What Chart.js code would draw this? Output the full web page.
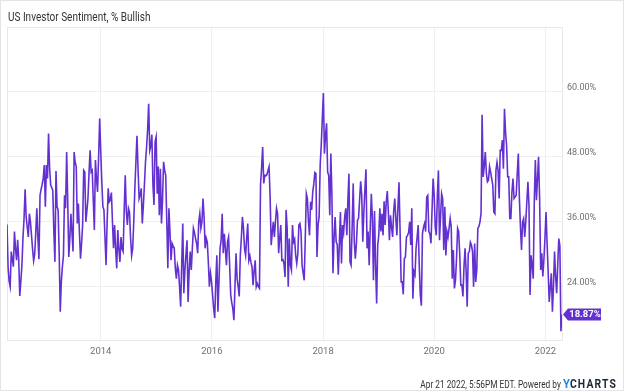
<!DOCTYPE html>
<html>
<head>
<meta charset="utf-8">
<script src="https://cdn.jsdelivr.net/npm/chart.js@4.4.1/dist/chart.umd.min.js"></script>
<style>
html,body{margin:0;padding:0;background:#fff;}
#wrap{position:relative;width:624px;height:391px;box-sizing:border-box;border:1px solid #e4e4e4;overflow:hidden;font-family:Roboto,'Noto Sans',sans-serif;}
#c{position:absolute;left:-1px;top:-1px;}
#title{position:absolute;left:7px;top:8px;font-size:12.5px;color:#333;white-space:nowrap;transform:scaleX(0.8);transform-origin:0 0;}
#footer{position:absolute;right:6px;top:375px;font-size:10px;color:#333;white-space:nowrap;line-height:14px;transform:scaleX(0.83);transform-origin:100% 0;}
#footer .y{color:#1a8cf0;font-weight:700;font-size:13.5px;}
#footer .c{color:#1c2838;font-weight:700;font-size:12.5px;letter-spacing:1.4px;}
</style>
</head>
<body>
<div id="wrap">
<canvas id="c" width="624" height="391"></canvas>
<div id="title">US Investor Sentiment, % Bullish</div>
<div id="footer">Apr 21 2022, 5:56PM EDT. Powered by <span class="y">Y</span><span class="c">CHARTS</span></div>
</div>
<script>
// Weekly AAII-style % bullish readings, first reading week of 25 Apr 2012, last 20 Apr 2022
const firstWeek = '2012-04-25';
const bullish2012to2014a = [
35.5,27.7,25,24.0,30.5,29,27.7,34.2,31,28.9,
32.7,29,22.3,25,28,33,36.6,42.0,36.9,35,
33.2,37.5,36,33.5,31,28.8,30,34,38.5,33,
29.1,40.9,42,42.9,44,46.5,38.8,46.5,44,52.3,
46,42.8,42.3,41.8,34,28.6,45.4,38.8,38.2,30,
19.4,25,27.7,29.8,40.9,38.5,48.9,40,29.5,33,
37.5,34,30.5,48.9,47,46.2,35.7,39.4,34,29.2,
32,35.4,45.5,45.2,36.0,38,40.3,45,49.2,45.2,
45.5,40,34.5,47.4,44,41.5,48,55.1];
const bullish2014to2015 = [
49,43.4,38.8,38.2,33,28.0,36,42.2,39.7,40,
41.4,36,31.1,35.4,31,27.4,34.5,31,28.6,33.2,
31,30.5,38,44.6,38,35.4,38.5,37.8,33,29.8,
31.1,36,42,47,51.9,46,40.3,41,42.2,35.7,
39,42.8,47,49.7,53,57.8,49.2,50,52.1,42.8,
39.1,50.8,51.7,41.2,46.2,37.2,45.8,35.7,40,47.1,
45.5,44.6,36,27.4,38.5,34,28.9,32.0,31.5,31.1,
27.4,25.5,28,27.1,24,20.3,28,35.7,22.8,27,
30,32.6,21.2,27,30.5,27.1,31.1];
const bullish2015to2017 = [
34.8,34,32.9,32,30.2,36,37.5,34.8,36,40.3,
36.9,31.1,33,32.3,28.6,24.0,26.5,25,22.5,20,
18.2,25,29.8,19.4,25,31.1,32.6,37.5,30.2,33.8,
31,28.0,32.3,33.2,28.0,22.5,21,20.0,17.8,24,
30.2,25.5,24,22.2,29.8,33,36.9,34.8,31,29.8,
33,35.7,28.9,29.7,28.5,27.7,24.3,27,28.9,24.0,
24.6,24,23.7,42.8,46,49.8,43.1,44.6,44.5,44.7,
45.5,46.2,40.6,31.7,34,36.0,33.2,36,38.5,37.5,
30.2,33,35.4,28.9,29,28.3,25.8];
const bullish2017to2019 = [
38.2,34.8,24.0,32.9,28,27.1,35.4,32.3,32.8,29.8,
28.3,30,35.4,35.7,34.2,28.0,26.5,25.2,33,41.2,
40.3,36,33.5,39.7,38.2,41.5,43,45.1,44.9,29.5,
35.4,36.9,46.5,50.2,55.1,59.8,48.6,52,54.2,45.2,
44.6,37.2,48.6,40.9,26.5,33,36.9,32.3,31.8,26.2,
32,37.8,28.3,35.4,34,36.9,38.5,33.5,40,44.9,
28.6,28.0,35,43.1,32.3,29.2,32,36.3,36.6,40,
43.5,40.9,32.3,37.8,42,45.7,31.1,34.2,28.0,35,
41.2,36.6,25.2,38.0,28,20.9,31.7];
const bullish2019to2020 = [
33.5,38.5,34.2,37.5,33.5,39.8,35.4,39.7,41.7,37.8,
32.6,37.2,35,33.2,38,40.3,36.6,33.5,38.8,43.3,
34.2,24.9,24.9,22.6,29.2,29.5,33.2,33.5,34,36.0,
31.7,38.5,21.8,26.8,26.2,31.1,33.2,35.4,28,22.5,
20.5,33.8,35,35.7,34.2,40.6,40.9,34.2,33.8,32.0,
38.2,44.0,40.9,35,33.5,40.9,45.5,32.6,36.9,41.2,
40.3,30.8,38.8,29.8,34.2,33.2,34.8,36.6,35.1,25.5,
30.8,23.7,25.2,29.2,34.8,34.2,30,24.3,24.3,22.2,
27.7,31.1,26.8,20.3,30.2,30.5,32.2,31.7];
const bullish2020to2022 = [
30.5,24.0,32.0,24.9,27.1,34.8,35.1,36.0,37.5,55.8,
44.3,46.2,48.9,45,43.4,43.7,46.2,45.2,44,42.8,
37.8,37.5,45.5,47.0,45.5,40.3,49.2,49.2,51.1,45.8,
56.9,52.6,50,44.3,44.3,36.6,36.6,41.5,44.0,40.3,
40.6,40.9,45,48.6,40.3,35,30.8,36.0,36.6,33.2,
36,39.7,43.4,39.1,22.5,29.8,28,25.5,40,47.4,
40.0,44,48.0,40.0,27.1,30.2,25.9,29,33,37.8,
32,26.8,21.2,24,26.5,19.4,24,30.5,26,22.8,
28,32.9,31.6,15.8,18.87];

const xTickYears = [2014, 2016, 2018, 2020, 2022];
const yTickValues = [24, 36, 48, 60];

const values = [].concat(bullish2012to2014a, bullish2014to2015, bullish2015to2017,
  bullish2017to2019, bullish2019to2020, bullish2020to2022);
const WEEK = 7 * 86400000;
const t0 = Date.parse(firstWeek + 'T00:00:00Z');
const points = values.map((v, i) => ({ x: t0 + i * WEEK, y: v }));
const lastVal = values[values.length - 1];

const LINE = '#6431d1';

const framePlugin = {
  id: 'frame',
  beforeDatasetsDraw(chart) {
    const a = chart.chartArea, ctx = chart.ctx;
    ctx.save();
    ctx.strokeStyle = '#e8e8e8';
    ctx.lineWidth = 1;
    ctx.strokeRect(Math.round(a.left) + 0.5, Math.round(a.top) + 0.5,
      Math.round(a.right - a.left), Math.round(a.bottom - a.top));
    ctx.restore();
  }
};

const tagPlugin = {
  id: 'lastTag',
  afterDraw(chart) {
    const ctx = chart.ctx, a = chart.chartArea;
    const y = chart.scales.y.getPixelForValue(lastVal);
    const x0 = a.right + 1;
    const h = 12, bodyL = x0 + 5, bodyR = x0 + 38;
    ctx.save();
    ctx.fillStyle = LINE;
    ctx.beginPath();
    ctx.moveTo(x0, y);
    ctx.lineTo(bodyL, y - h / 2);
    ctx.lineTo(bodyR, y - h / 2);
    ctx.lineTo(bodyR, y + h / 2);
    ctx.lineTo(bodyL, y + h / 2);
    ctx.closePath();
    ctx.fill();
    ctx.fillStyle = '#fff';
    ctx.font = 'bold 9.5px Roboto, "Noto Sans", sans-serif';
    ctx.textAlign = 'center';
    ctx.textBaseline = 'middle';
    ctx.fillText(lastVal.toFixed(2) + '%', (bodyL + bodyR) / 2 + 0.5, y + 0.5);
    ctx.restore();
  }
};

new Chart(document.getElementById('c'), {
  type: 'line',
  data: {
    datasets: [{
      data: points,
      borderColor: LINE,
      borderWidth: 1.6,
      pointRadius: 0,
      tension: 0,
      fill: false
    }]
  },
  options: {
    responsive: false,
    animation: false,
    events: [],
    layout: { padding: { left: 7, top: 27, right: 0, bottom: 0 } },
    plugins: { legend: { display: false }, tooltip: { enabled: false }, title: { display: false } },
    scales: {
      x: {
        type: 'linear',
        min: t0,
        max: t0 + (values.length - 1) * WEEK,
        afterBuildTicks(scale) {
          scale.ticks = xTickYears.map(yr => ({ value: Date.UTC(yr, 0, 1) }));
        },
        afterFit(scale) { scale.height = 51; },
        ticks: {
          autoSkip: false,
          maxRotation: 0,
          padding: 6,
          color: '#707070',
          font: { family: 'Roboto', size: 9.5 },
          callback(value, index) { return String(xTickYears[index]); }
        },
        grid: { color: '#efefef', drawTicks: false, lineWidth: 1 },
        border: { display: false }
      },
      y: {
        position: 'right',
        min: 14.16,
        max: 72,
        afterBuildTicks(scale) {
          scale.ticks = yTickValues.concat([72]).map(v => ({ value: v }));
        },
        afterFit(scale) { scale.width = 62; },
        ticks: {
          autoSkip: false,
          padding: 5,
          labelOffset: -4,
          color: '#707070',
          font: { family: 'Roboto', size: 9 },
          callback(value) { return value === 72 ? '' : value.toFixed(2) + '%'; }
        },
        grid: { color: '#efefef', drawTicks: false, lineWidth: 1 },
        border: { display: false }
      }
    }
  },
  plugins: [framePlugin, tagPlugin]
});
</script>
</body>
</html>
